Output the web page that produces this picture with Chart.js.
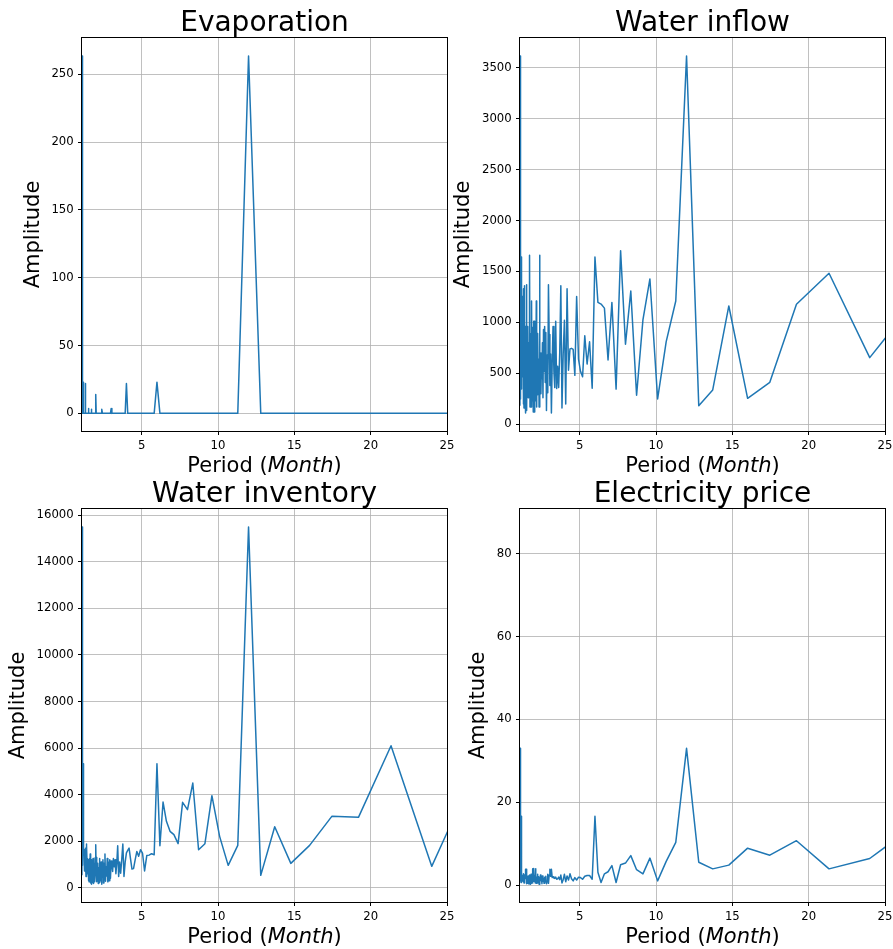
<!DOCTYPE html>
<html>
<head>
<meta charset="utf-8">
<script src="https://cdn.jsdelivr.net/npm/chart.js@4.4.1/dist/chart.umd.min.js"></script>
<style>
  html, body { margin: 0; padding: 0; background: #ffffff; }
  #wrap { position: relative; width: 893px; height: 949px; overflow: hidden; background: #ffffff; }
  #wrap canvas { position: absolute; left: 0; top: 0; }
</style>
</head>
<body>
<div id="wrap">
  <canvas id="c0" width="893" height="949"></canvas>
  <canvas id="c1" width="893" height="949"></canvas>
  <canvas id="c2" width="893" height="949"></canvas>
  <canvas id="c3" width="893" height="949"></canvas>
</div>
<script>
// ---- Data: FFT amplitudes of a 192-month series, harmonics k = 7 ... 96 (period = 192 / k months)
const N_MONTHS = 192;
const FIRST_HARMONIC = 7;

const evaporation = [
  0, 0, 0, 0, 0, 0, 0, 0, 0, 263.5,
  0, 0, 0, 0, 0, 0, 0, 0, 0, 0,
  0, 0, 0, 0, 0, 23, 0, 0, 0, 0,
  0, 0, 0, 0, 0, 0, 0, 0, 0, 0,
  0, 22, 0, 0, 0, 0, 0, 0, 0, 0,
  0, 0, 0, 0, 0, 0, 0, 3.5, 0, 0,
  0, 0, 0, 0, 0, 0, 0, 0, 0, 0,
  0, 0, 0, 3, 0, 0, 0, 0, 0, 0,
  0, 0, 0, 0, 0, 0, 0, 0, 0, 14
];

const waterInflow = [
  1300, 654, 1482, 1178, 412, 255, 1161, 337, 183, 3615,
  1210, 811, 249, 1426, 1024, 285, 1308, 786, 1704, 345,
  1196, 631, 1140, 1180, 1196, 1642, 353, 810, 591, 868,
  467, 520, 640, 1253, 480, 735, 745, 740, 530, 1330,
  200, 1020, 690, 160, 1360, 700, 360, 570, 350, 1010,
  360, 520, 960, 620, 110, 690, 380, 880, 1370, 310,
  680, 135, 900, 410, 960, 520, 930, 260, 800, 450,
  610, 300, 700, 360, 1660, 170, 640, 420, 890, 290,
  760, 170, 1210, 330, 950, 230, 580, 120, 1010, 700
];

const waterInventory = [
  5870, 917, 6102, 3022, 3065, 1819, 1046, 2621, 530, 15499,
  1819, 960, 2206, 3954, 1891, 1633, 4498, 3352, 3667, 1891,
  2278, 2421, 2851, 3681, 1805, 5329, 1418, 1461, 1400, 1380,
  720, 1490, 1633, 1350, 1560, 1200, 820, 800, 1250, 1700,
  1600, 1500, 1100, 480, 1880, 1200, 620, 1100, 480, 1800,
  1050, 600, 1200, 900, 1250, 700, 1000, 1150, 400, 1200,
  300, 1100, 250, 1250, 500, 900, 280, 1450, 350, 1050,
  200, 1200, 450, 1000, 150, 1100, 300, 950, 220, 1250,
  500, 850, 180, 1050, 350, 900, 260, 1300, 600, 1850
];

const electricityPrice = [
  15.7, 6.4, 3.9, 10.7, 7.2, 8.9, 4.8, 3.9, 5.5, 33.0,
  10.3, 5.7, 1.0, 6.5, 2.7, 3.7, 7.1, 5.3, 4.9, 0.6,
  4.7, 3.2, 2.7, 0.6, 3.1, 16.6, 1.4, 2.3, 2.3, 2.1,
  1.4, 1.8, 1.9, 1.2, 1.8, 1.0, 1.5, 2.7, 1.2, 2.2,
  0.8, 2.6, 1.3, 0.5, 2.4, 1.3, 1.9, 1.5, 1.4, 1.9,
  1.6, 1.7, 2.0, 1.8, 3.8, 2.1, 3.8, 2.4, 0.4, 2.6,
  1.0, 0.3, 2.1, 0.8, 1.9, 0.4, 1.6, 0.9, 2.2, 0.3,
  1.8, 1.1, 2.4, 0.6, 1.7, 0.2, 2.0, 1.2, 0.5, 2.6,
  1.3, 0.4, 1.9, 0.8, 3.9, 0.5, 1.7, 0.9, 2.3, 4.0
];

const xTicks = [5, 10, 15, 20, 25];
const evaporationTicks = [0, 50, 100, 150, 200, 250];
const inflowTicks = [0, 500, 1000, 1500, 2000, 2500, 3000, 3500];
const inventoryTicks = [0, 2000, 4000, 6000, 8000, 10000, 12000, 14000, 16000];
const priceTicks = [0, 20, 40, 60, 80];

const titles = ['Evaporation', 'Water inflow', 'Water inventory', 'Electricity price'];
const xLabelParts = [['Period (', 'normal'], ['Month', 'italic'], [')', 'normal']];
const yLabel = 'Amplitude';

// Full spectrum: harmonics N-k mirror harmonics k (real signal), giving the periods below 2 months.
function spectrumPoints(amps) {
  const pts = [];
  for (let i = 0; i < amps.length; i++) {
    const k = FIRST_HARMONIC + i;
    pts.push({ x: N_MONTHS / k, y: amps[i] });
  }
  for (let i = amps.length - 2; i >= 0; i--) {
    const k = N_MONTHS - (FIRST_HARMONIC + i);
    pts.push({ x: N_MONTHS / k, y: amps[i] });
  }
  return pts.sort((a, b) => a.x - b.x);
}

// ---- Layout / style
const W = 893, H = 949;
const Y_AXIS_W = 60, X_AXIS_H = 30;
const FONT = '"DejaVu Sans", "Liberation Sans", sans-serif';
Chart.defaults.font.family = FONT;

const panels = [
  { id: 'c0', title: titles[0], amps: evaporation, yMin: -13.0, yMax: 276.8, yTicks: evaporationTicks,
    area: { left: 82, top: 38, right: 447, bottom: 431 }, yLabelX: 39 },
  { id: 'c1', title: titles[1], amps: waterInflow, yMin: -66, yMax: 3791, yTicks: inflowTicks,
    area: { left: 520, top: 38, right: 885, bottom: 431 }, yLabelX: 469 },
  { id: 'c2', title: titles[2], amps: waterInventory, yMin: -615, yMax: 16274, yTicks: inventoryTicks,
    area: { left: 82, top: 509, right: 447, bottom: 902 }, yLabelX: 24 },
  { id: 'c3', title: titles[3], amps: electricityPrice, yMin: -4.1, yMax: 90.8, yTicks: priceTicks,
    area: { left: 520, top: 509, right: 885, bottom: 902 }, yLabelX: 484 }
];

const textPlugin = {
  id: 'mplText',
  afterDatasetsDraw(chart, args, opts) {
    const ctx = chart.ctx, a = chart.chartArea;
    ctx.save();
    // spines
    ctx.strokeStyle = '#000000';
    ctx.lineWidth = 1;
    ctx.strokeRect(Math.round(a.left) - 0.5, Math.round(a.top) - 0.5,
                   Math.round(a.right - a.left) + 1, Math.round(a.bottom - a.top) + 1);
    ctx.fillStyle = '#000000';
    // title
    ctx.font = '28px ' + FONT;
    ctx.textAlign = 'center';
    ctx.textBaseline = 'alphabetic';
    ctx.fillText(opts.title, (a.left + a.right) / 2, a.top - 7);
    // x label with italic part
    const fs = 21;
    let total = 0;
    const widths = xLabelParts.map(([t, st]) => {
      ctx.font = (st === 'italic' ? 'italic ' : '') + fs + 'px ' + FONT;
      const w = ctx.measureText(t).width; total += w; return w;
    });
    let x = (a.left + a.right) / 2 - total / 2;
    ctx.textAlign = 'left';
    xLabelParts.forEach(([t, st], i) => {
      ctx.font = (st === 'italic' ? 'italic ' : '') + fs + 'px ' + FONT;
      ctx.fillText(t, x, a.bottom + 41);
      x += widths[i];
    });
    // y label
    ctx.font = fs + 'px ' + FONT;
    ctx.translate(opts.yLabelX, (a.top + a.bottom) / 2);
    ctx.rotate(-Math.PI / 2);
    ctx.textAlign = 'center';
    ctx.fillText(yLabel, 0, 0);
    ctx.restore();
  }
};

panels.forEach(p => {
  const el = document.getElementById(p.id);
  new Chart(el, {
    type: 'line',
    data: {
      datasets: [{
        data: spectrumPoints(p.amps),
        borderColor: '#1f77b4',
        borderWidth: 1.5,
        pointRadius: 0,
        pointHoverRadius: 0,
        fill: false,
        tension: 0,
        borderJoinStyle: 'round',
        clip: 0
      }]
    },
    options: {
      responsive: false,
      animation: false,
      devicePixelRatio: 1,
      events: [],
      layout: {
        padding: {
          left: p.area.left - Y_AXIS_W,
          top: p.area.top,
          right: W - p.area.right,
          bottom: H - p.area.bottom - X_AXIS_H
        }
      },
      plugins: {
        legend: { display: false },
        tooltip: { enabled: false },
        title: { display: false },
        mplText: { title: p.title, yLabelX: p.yLabelX }
      },
      scales: {
        x: {
          type: 'linear',
          min: 1.09,
          max: 25,
          afterBuildTicks: s => { s.ticks = xTicks.map(v => ({ value: v })); },
          afterFit: s => { s.height = X_AXIS_H; s.paddingLeft = 0; s.paddingRight = 0; },
          ticks: { color: '#000000', font: { size: 11.7 }, padding: 4, maxRotation: 0, callback: v => String(v) },
          grid: { color: '#b0b0b0', lineWidth: 0.8, tickColor: '#000000', tickLength: 4, tickWidth: 1 },
          border: { display: false }
        },
        y: {
          type: 'linear',
          min: p.yMin,
          max: p.yMax,
          afterBuildTicks: s => { s.ticks = p.yTicks.map(v => ({ value: v })); },
          afterFit: s => { s.width = Y_AXIS_W; s.paddingTop = 0; s.paddingBottom = 0; },
          ticks: { color: '#000000', font: { size: 11.7 }, padding: 4.3, callback: v => String(v) },
          grid: { color: '#b0b0b0', lineWidth: 0.8, tickColor: '#000000', tickLength: 4, tickWidth: 1 },
          border: { display: false }
        }
      }
    },
    plugins: [textPlugin]
  });
});
</script>
</body>
</html>
